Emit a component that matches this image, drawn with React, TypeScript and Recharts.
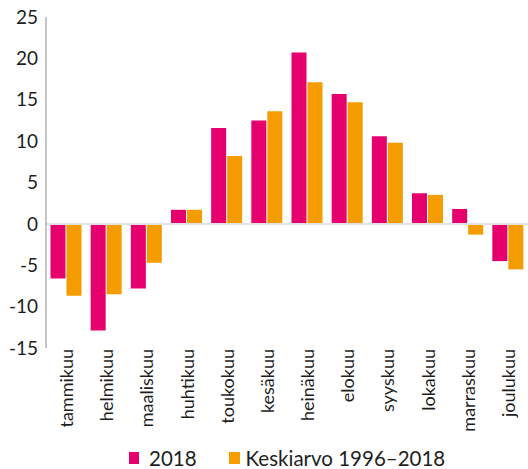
import React from 'react';
import { BarChart, Bar, XAxis, YAxis, ReferenceLine, Legend } from 'recharts';

const months = ['tammikuu', 'helmikuu', 'maaliskuu', 'huhtikuu', 'toukokuu', 'kesäkuu', 'heinäkuu', 'elokuu', 'syyskuu', 'lokakuu', 'marraskuu', 'joulukuu'];
const values2018 = [-6.6, -12.9, -7.8, 1.7, 11.6, 12.5, 20.7, 15.7, 10.6, 3.7, 1.8, -4.5];
const valuesAvg = [-8.7, -8.5, -4.7, 1.7, 8.2, 13.6, 17.1, 14.7, 9.8, 3.5, -1.3, -5.5];
const yTicks = [-15, -10, -5, 0, 5, 10, 15, 20, 25];
const seriesNames = ['2018', 'Keskiarvo 1996–2018'];

const PINK = '#E6006E';
const ORANGE = '#F59C00';
const TEXT = '#1e1e1e';
const FONT = 'Lato, "Open Sans", sans-serif';

const data = months.map((m, i) => ({ month: m, a: values2018[i], b: valuesAvg[i] }));

const XTick = (props: any) => {
  const { x, y, payload } = props;
  return (
    <text
      x={x}
      y={y}
      transform={`rotate(-90, ${x}, ${y})`}
      textAnchor="end"
      dominantBaseline="central"
      fill={TEXT}
      fontSize={18}
      fontFamily={FONT}
    >
      {payload.value}
    </text>
  );
};

const LegendContent = () => (
  <div
    style={{
      display: 'flex',
      alignItems: 'center',
      paddingLeft: 129,
      paddingTop: 8,
      boxSizing: 'border-box',
      height: 30,
      fontFamily: FONT,
      fontSize: 20.5,
      color: TEXT,
    }}
  >
    <span style={{ display: 'inline-block', width: 10, height: 12, background: PINK, marginRight: 10 }} />
    <span style={{ marginRight: 32 }}>{seriesNames[0]}</span>
    <span style={{ display: 'inline-block', width: 11, height: 12, background: ORANGE, marginRight: 6 }} />
    <span>{seriesNames[1]}</span>
  </div>
);

export default function App() {
  return (
    <div style={{ position: 'absolute', left: 0, top: 0, background: '#fff' }}>
      <BarChart
        width={528}
        height={469}
        data={data}
        margin={{ top: 17, right: 0, left: 0, bottom: 0 }}
        barCategoryGap={4.5}
        barGap={1}
      >
        <ReferenceLine y={0} stroke="#e2e2e2" strokeWidth={2} />
        <XAxis
          dataKey="month"
          axisLine={false}
          tickLine={false}
          height={91}
          interval={0}
          tick={<XTick />}
          tickMargin={0}
          tickSize={1}
        />
        <YAxis
          width={46}
          domain={[-15, 25]}
          ticks={yTicks}
          interval={0}
          axisLine={{ stroke: '#8a8a8a', strokeWidth: 1 }}
          tickLine={false}
          tickSize={8}
          tickMargin={0}
          tick={{ fill: TEXT, fontSize: 19, fontFamily: FONT }}
        />
        <Bar dataKey="a" name={seriesNames[0]} fill={PINK} isAnimationActive={false} />
        <Bar dataKey="b" name={seriesNames[1]} fill={ORANGE} isAnimationActive={false} />
        <Legend
          verticalAlign="bottom"
          height={30}
          content={<LegendContent />}
          wrapperStyle={{ left: 0, width: 528, bottom: 0 }}
        />
      </BarChart>
    </div>
  );
}
